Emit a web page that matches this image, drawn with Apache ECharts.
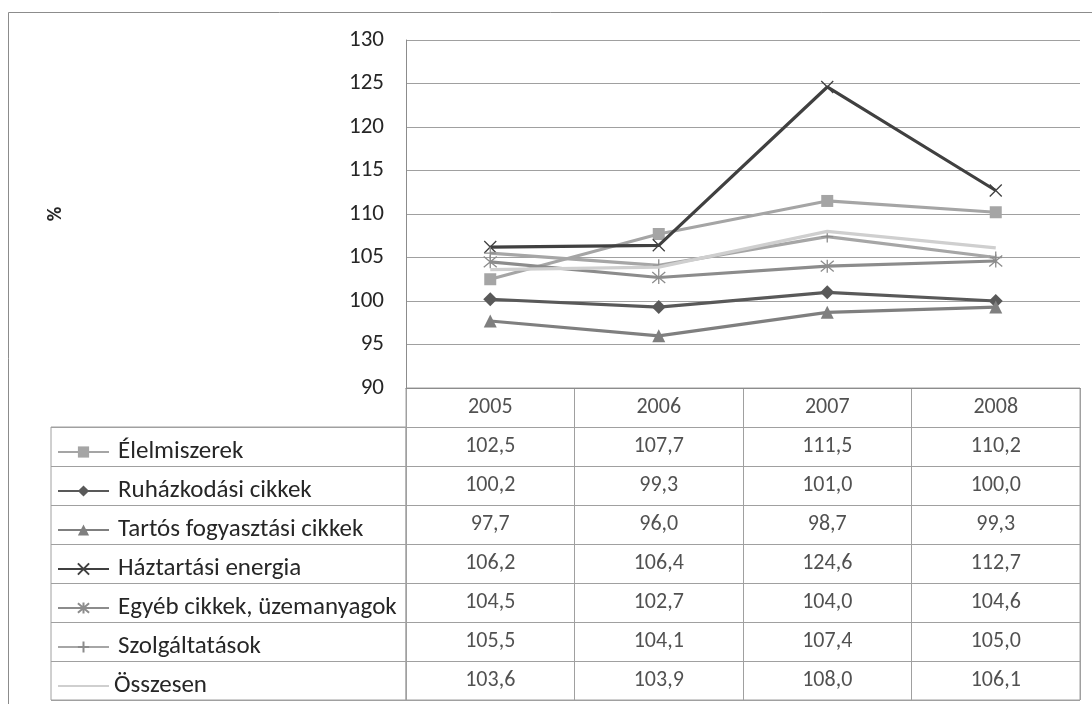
<!DOCTYPE html>
<html>
<head>
<meta charset="utf-8">
<script src="https://cdn.jsdelivr.net/npm/echarts@6/dist/echarts.min.js"></script>
<style>
html,body{margin:0;padding:0;background:#fff;}
#chart{width:1092px;height:704px;}
</style>
</head>
<body>
<div id="chart"></div>
<script>
// ---- data ----
const years = ['2005', '2006', '2007', '2008'];
const seriesNames = ['Élelmiszerek', 'Ruházkodási cikkek', 'Tartós fogyasztási cikkek', 'Háztartási energia', 'Egyéb cikkek, üzemanyagok', 'Szolgáltatások', 'Összesen'];
const elelmiszerek = [102.5, 107.7, 111.5, 110.2];
const ruhazkodasi = [100.2, 99.3, 101.0, 100.0];
const tartos = [97.7, 96.0, 98.7, 99.3];
const haztartasiEnergia = [106.2, 106.4, 124.6, 112.7];
const egyeb = [104.5, 102.7, 104.0, 104.6];
const szolgaltatasok = [105.5, 104.1, 107.4, 105.0];
const osszesen = [103.6, 103.9, 108.0, 106.1];
const yTicks = [90, 95, 100, 105, 110, 115, 120, 125, 130];
const yAxisName = '%';

const allValues = [elelmiszerek, ruhazkodasi, tartos, haztartasiEnergia, egyeb, szolgaltatasok, osszesen];

// ---- styles ----
const FONT = 'Carlito, Calibri, Lato, sans-serif';
const TXT = '#262626';
const GRIDC = '#a0a0a0';
const FS = 22;      // numbers in table
const FS_LEG = 25;  // legend text in table
const styles = [
  {line:'#a5a5a5', symbol:'rect', size:12, fill:'#a5a5a5', stroke:null},
  {line:'#595959', symbol:'diamond', size:14, fill:'#595959', stroke:null},
  {line:'#7f7f7f', symbol:'triangle', size:13, fill:'#7f7f7f', stroke:null},
  {line:'#404040', symbol:'path://M0,0L10,10M10,0L0,10', size:12, fill:'transparent', stroke:'#404040'},
  {line:'#8c8c8c', symbol:'path://M0,0L10,10M10,0L0,10M5,-1L5,11', size:13, fill:'transparent', stroke:'#8c8c8c'},
  {line:'#a6a6a6', symbol:'path://M5,0L5,10M0,5L10,5', size:12, fill:'transparent', stroke:'#8c8c8c'},
  {line:'#cfcfcf', symbol:'none', size:0, fill:'transparent', stroke:null}
];

const PL = 406, PT = 40, PW = 674, PH = 348;
const ROW = 39;
const TT = PT + PH; // table top

const fmt = v => v.toFixed(1).replace('.', ',');

// table cells
const cellData = [];
years.forEach((y, c) => cellData.push([c, 0, y]));
allValues.forEach((arr, r) => arr.forEach((v, c) => cellData.push([c, r + 1, fmt(v)])));

const lineSeries = seriesNames.map((name, i) => {
  const s = styles[i];
  return {
    name: name,
    type: 'line',
    xAxisIndex: 0, yAxisIndex: 0,
    data: allValues[i],
    symbol: s.symbol,
    symbolSize: s.size,
    showSymbol: s.symbol !== 'none',
    lineStyle: {color: s.line, width: 3.2},
    itemStyle: {color: s.fill, borderColor: s.stroke || s.fill, borderWidth: s.stroke ? 1.3 : 0},
    emphasis: {disabled: true},
    silent: true,
    z: 3 + i
  };
});

const legends = seriesNames.map((name, i) => {
  const l = {
    data: [name],
    left: 57,
    top: TT + ROW * (i + 1) + ROW / 2 - 7,
    itemWidth: 51,
    itemHeight: 14,
    padding: 0,
    selectedMode: false,
    textStyle: {fontSize: FS_LEG, color: TXT, fontFamily: FONT, padding: [0, 0, 4, i === 6 ? 0 : 4]}
  };
  if (i === 6) l.itemStyle = {color: 'transparent', borderColor: 'transparent', borderWidth: 0};
  return l;
});

const option = {
  animation: false,
  backgroundColor: '#fff',
  legend: legends,
  grid: [
    {left: PL, top: PT, width: PW, height: PH, show: false},
    {left: PL, top: TT, width: PW, height: ROW * 8, show: true, borderColor: GRIDC, borderWidth: 1},
    {left: 51, top: TT + ROW, width: PL - 51, height: ROW * 7, show: true, borderColor: GRIDC, borderWidth: 1}
  ],
  xAxis: [
    {gridIndex: 0, type: 'category', data: years, boundaryGap: true,
     axisLine: {show: true, lineStyle: {color: '#8c8c8c', width: 1}}, axisTick: {show: false}, axisLabel: {show: false}},
    {gridIndex: 1, type: 'category', data: years, boundaryGap: true,
     axisLine: {show: false}, axisTick: {show: false}, axisLabel: {show: false},
     splitLine: {show: true, lineStyle: {color: GRIDC, width: 1}}},
    {gridIndex: 2, type: 'value', min: 0, max: 1, show: false}
  ],
  yAxis: [
    {gridIndex: 0, type: 'value', min: yTicks[0], max: yTicks[yTicks.length - 1], interval: 5,
     name: yAxisName, nameLocation: 'middle', nameGap: 340, nameRotate: 90,
     nameTextStyle: {fontSize: 20, fontWeight: 'bold', color: TXT, fontFamily: FONT},
     axisLine: {show: true, lineStyle: {color: '#8c8c8c', width: 1}}, axisTick: {show: false},
     axisLabel: {fontSize: 23, color: TXT, fontFamily: FONT, margin: 22},
     splitLine: {show: true, lineStyle: {color: GRIDC, width: 1}}},
    {gridIndex: 1, type: 'category', data: ['h'].concat(seriesNames), inverse: true, boundaryGap: true,
     axisLine: {show: false}, axisTick: {show: false}, axisLabel: {show: false},
     splitLine: {show: true, lineStyle: {color: GRIDC, width: 1}}},
    {gridIndex: 2, type: 'category', data: seriesNames, inverse: true, boundaryGap: true,
     axisLine: {show: false}, axisTick: {show: false}, axisLabel: {show: false},
     splitLine: {show: true, lineStyle: {color: GRIDC, width: 1}}}
  ],
  series: lineSeries.concat([{
    type: 'scatter',
    xAxisIndex: 1, yAxisIndex: 1,
    data: cellData,
    symbolSize: 1,
    itemStyle: {color: 'transparent'},
    silent: true,
    label: {show: true, position: 'inside', formatter: p => p.data[2], fontSize: FS, color: TXT, fontFamily: FONT},
    z: 10
  }]),
  graphic: [{
    type: 'rect', silent: true, z: 0,
    shape: {x: 8.5, y: 12.5, width: 1100, height: 720},
    style: {fill: 'none', stroke: '#8c8c8c', lineWidth: 1}
  }]
};

const chart = echarts.init(document.getElementById('chart'), null, {renderer: 'canvas'});
chart.setOption(option);
</script>
</body>
</html>
